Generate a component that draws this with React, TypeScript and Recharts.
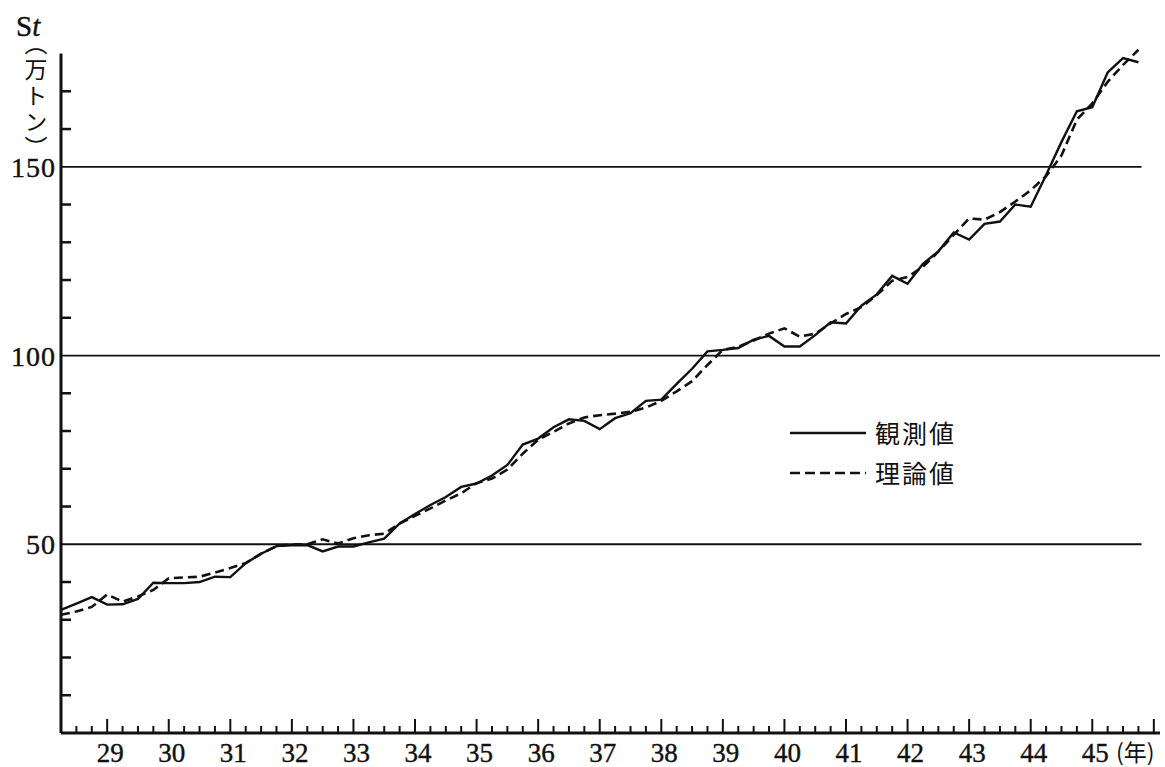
import React from 'react';
import { LineChart, Line, XAxis, YAxis, ReferenceLine } from 'recharts';

// Quarterly time points (Showa year + quarter fraction)
const quarters = [
  28.25, 28.5, 28.75, 29.0, 29.25, 29.5, 29.75, 30.0, 30.25, 30.5, 30.75, 31.0,
  31.25, 31.5, 31.75, 32.0, 32.25, 32.5, 32.75, 33.0, 33.25, 33.5, 33.75, 34.0,
  34.25, 34.5, 34.75, 35.0, 35.25, 35.5, 35.75, 36.0, 36.25, 36.5, 36.75, 37.0,
  37.25, 37.5, 37.75, 38.0, 38.25, 38.5, 38.75, 39.0, 39.25, 39.5, 39.75, 40.0,
  40.25, 40.5, 40.75, 41.0, 41.25, 41.5, 41.75, 42.0, 42.25, 42.5, 42.75, 43.0,
  43.25, 43.5, 43.75, 44.0, 44.25, 44.5, 44.75, 45.0, 45.25, 45.5, 45.75,
];

// 観測値 (observed)
const observed = [
  32.6, 34.3, 36.0, 34.0, 34.1, 35.5, 39.8, 39.7, 39.7, 40.0, 41.4, 41.3,
  45.0, 47.5, 49.5, 49.7, 49.8, 48.1, 49.4, 49.4, 50.5, 51.5, 55.5, 58.0,
  60.4, 62.5, 65.2, 66.1, 68.2, 71.0, 76.4, 78.0, 81.0, 83.1, 82.7, 80.5,
  83.4, 84.7, 88.0, 88.3, 92.5, 96.5, 101.1, 101.5, 102.0, 104.2, 105.2, 102.4,
  102.4, 105.4, 108.8, 108.5, 113.2, 116.2, 121.1, 119.0, 124.3, 127.6, 132.6, 130.7,
  134.9, 135.5, 140.0, 139.4, 147.8, 156.6, 164.7, 165.8, 175.0, 178.8, 177.7,
];

// 理論値 (theoretical)
const theoretical = [
  31.3, 32.2, 33.4, 36.7, 34.8, 36.2, 37.9, 41.0, 41.2, 41.4, 42.5, 43.7,
  45.0, 47.5, 49.5, 50.0, 50.0, 51.3, 50.2, 51.6, 52.4, 52.8, 55.5, 57.5,
  59.5, 61.6, 63.5, 66.2, 67.4, 69.8, 74.0, 77.7, 79.8, 82.0, 83.6, 84.2,
  84.6, 85.1, 86.2, 88.0, 90.5, 93.2, 97.5, 101.5, 102.3, 104.0, 105.8, 107.2,
  105.0, 105.8, 108.5, 111.0, 112.8, 116.0, 119.8, 120.8, 123.5, 127.5, 132.0, 136.3,
  136.0, 138.0, 140.8, 143.8, 147.5, 153.0, 162.5, 166.8, 172.5, 177.0, 181.0,
];

const yearLabels = [29, 30, 31, 32, 33, 34, 35, 36, 37, 38, 39, 40, 41, 42, 43, 44, 45];
const yLabeled = [50, 100, 150];
const yMinor = [10, 20, 30, 40, 50, 60, 70, 80, 90, 100, 110, 120, 130, 140, 150, 160, 170];
const gridValues = [50, 100, 150];

const X_MIN = 28.25;
const X_MAX = 46.1;

const data = quarters.map((t, i) => ({ t, obs: observed[i], theo: theoretical[i] }));

const xTicks: number[] = [];
for (let q = 0; q <= 70; q++) xTicks.push(28.5 + q * 0.25);

const INK = '#111';
const SERIF = 'Liberation Serif';
const CJK = 'Noto Sans CJK JP';

const XTick = (props: any) => {
  const { x, y, payload } = props;
  const v = payload.value as number;
  const isYear = Math.abs(v - Math.round(v)) < 1e-6;
  const len = isYear ? 14 : 7;
  const showLabel = isYear && yearLabels.includes(Math.round(v));
  return (
    <g>
      <line x1={x} y1={y} x2={x} y2={y - len} stroke={INK} strokeWidth={2} />
      {showLabel && (
        <text
          x={x + 3}
          y={y + 29}
          textAnchor="middle"
          style={{ fontFamily: SERIF, fontSize: 27 }}
          fill={INK}
          stroke={INK}
          strokeWidth={0.4}
        >
          {Math.round(v)}
        </text>
      )}
    </g>
  );
};

const YTick = (props: any) => {
  const { x, y, payload } = props;
  const v = payload.value as number;
  const labeled = yLabeled.includes(v);
  return (
    <g>
      {!labeled && <line x1={x} y1={y} x2={x + 10} y2={y} stroke={INK} strokeWidth={2.5} />}
      {labeled && (
        <text
          x={x - 5}
          y={y + 10}
          textAnchor="end"
          style={{ fontFamily: SERIF, fontSize: 28, letterSpacing: 1 }}
          fill={INK}
          stroke={INK}
          strokeWidth={0.4}
        >
          {v}
        </text>
      )}
    </g>
  );
};

export default function App() {
  return (
    <div style={{ position: 'absolute', left: 0, top: 0, width: 1165, height: 767, background: '#fff' }}>
      <LineChart
        width={1165}
        height={767}
        data={data}
        margin={{ top: 46, right: 5, bottom: 0, left: 0 }}
      >
        <XAxis
          dataKey="t"
          type="number"
          domain={[X_MIN, X_MAX]}
          ticks={xTicks}
          interval={0}
          tickSize={0}
          tickMargin={0}
          tickLine={false}
          height={34}
          axisLine={{ stroke: INK, strokeWidth: 3 }}
          tick={<XTick />}
        />
        <YAxis
          type="number"
          domain={[0, 182]}
          ticks={yMinor}
          interval={0}
          width={61}
          tickSize={0}
          tickMargin={0}
          tickLine={false}
          axisLine={false}
          tick={<YTick />}
        />
        {gridValues.map((g) => (
          <ReferenceLine
            key={g}
            segment={[{ x: X_MIN, y: g }, { x: g === 100 ? X_MAX : 45.8, y: g }]}
            stroke={INK}
            strokeWidth={1.8}
          />
        ))}
        <ReferenceLine
          segment={[{ x: X_MIN, y: 0 }, { x: X_MIN, y: 180 }]}
          stroke={INK}
          strokeWidth={3}
        />
        <Line
          type="linear"
          dataKey="theo"
          stroke={INK}
          strokeWidth={2.6}
          strokeDasharray="9 5"
          dot={false}
          isAnimationActive={false}
        />
        <Line
          type="linear"
          dataKey="obs"
          stroke={INK}
          strokeWidth={2.4}
          dot={false}
          isAnimationActive={false}
        />
      </LineChart>

      <svg
        width={1165}
        height={767}
        style={{ position: 'absolute', left: 0, top: 0, pointerEvents: 'none' }}
      >
        {/* y-axis title */}
        <text x={16} y={36} style={{ fontFamily: SERIF, fontSize: 29 }} fill={INK} stroke={INK} strokeWidth={0.4}>
          S<tspan style={{ fontStyle: 'italic' }}>t</tspan>
        </text>
        <text
          x={36}
          y={32}
          fill={INK}
          style={{ fontFamily: CJK, fontSize: 23, writingMode: 'vertical-rl', letterSpacing: 3 }}
        >
          （万トン）
        </text>

        {/* x-axis unit */}
        <text x={1116} y={761} style={{ fontFamily: CJK, fontSize: 23 }} fill={INK}>
          (年)
        </text>

        {/* legend */}
        <line x1={790} y1={433} x2={866} y2={433} stroke={INK} strokeWidth={2.6} />
        <text x={875} y={443} style={{ fontFamily: CJK, fontSize: 25, letterSpacing: 2 }} fill={INK}>
          観測値
        </text>
        <line x1={790} y1={473} x2={866} y2={473} stroke={INK} strokeWidth={2.6} strokeDasharray="10 5" />
        <text x={875} y={483} style={{ fontFamily: CJK, fontSize: 25, letterSpacing: 2 }} fill={INK}>
          理論値
        </text>
      </svg>
    </div>
  );
}
